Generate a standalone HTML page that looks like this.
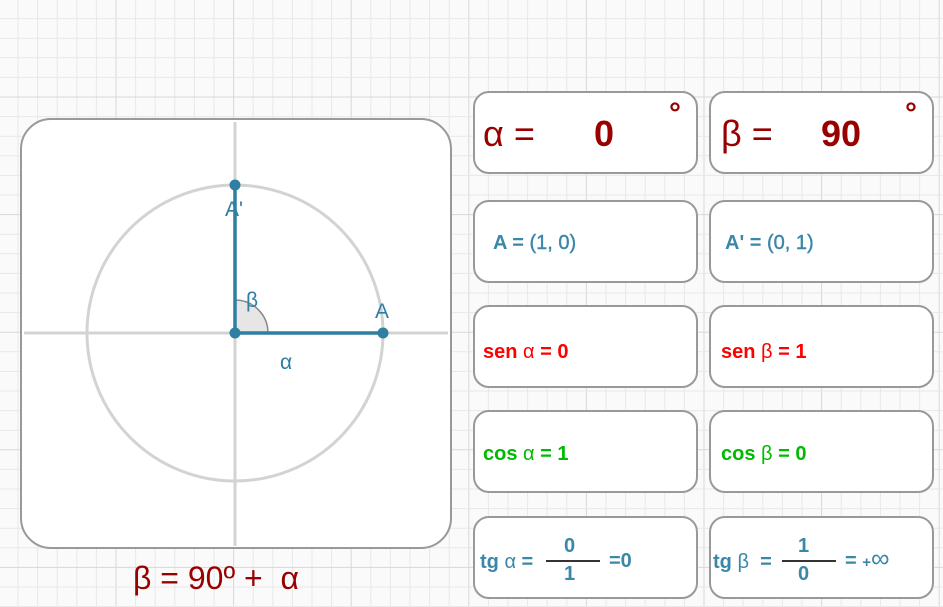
<!DOCTYPE html>
<html><head><meta charset="utf-8">
<style>
body{margin:0;width:943px;height:607px;overflow:hidden;background:#fafafa;font-family:"Liberation Sans",sans-serif;}
#bg{position:absolute;left:0;top:0;}
.box{position:absolute;width:225px;height:83px;border:2px solid #999;border-radius:16px;background:#fff;box-sizing:border-box;}
.t{position:absolute;white-space:nowrap;font-weight:bold;}
</style></head><body>
<svg id="bg" width="943" height="607"></svg>
<svg id="g" style="position:absolute;left:0;top:0" width="943" height="607"></svg>

<div class="box" style="left:473px;top:91px">
 <span class="t" style="left:8px;top:20px;font-size:36px;font-weight:normal;color:#990000">α =</span>
 <span class="t" style="left:119px;top:20px;font-size:36px;color:#990000">0</span>
 <span class="t" style="left:194px;top:4px;font-size:30px;color:#990000">°</span></div>
<div class="box" style="left:709px;top:91px">
 <span class="t" style="left:10px;top:20px;font-size:36px;font-weight:normal;color:#990000">β =</span>
 <span class="t" style="left:110px;top:20px;font-size:36px;color:#990000">90</span>
 <span class="t" style="left:194px;top:4px;font-size:30px;color:#990000">°</span></div>
<div class="box" style="left:473px;top:200px">
 <span class="t" style="left:18px;top:30px;font-size:20px;color:#3a87a8">A = <span style="font-weight:normal;-webkit-text-stroke:0.4px #3a87a8">(1, 0)</span></span></div>
<div class="box" style="left:709px;top:200px">
 <span class="t" style="left:14px;top:30px;font-size:20px;color:#3a87a8">A' = <span style="font-weight:normal;-webkit-text-stroke:0.4px #3a87a8">(0, 1)</span></span></div>
<div class="box" style="left:473px;top:305px">
 <span class="t" style="left:8px;top:34px;font-size:20px;color:#ff0000">sen <span style="font-weight:normal">α</span> = 0</span></div>
<div class="box" style="left:709px;top:305px">
 <span class="t" style="left:10px;top:34px;font-size:20px;color:#ff0000">sen <span style="font-weight:normal">β</span> = 1</span></div>
<div class="box" style="left:473px;top:410px">
 <span class="t" style="left:8px;top:31px;font-size:20px;color:#00bb00">cos <span style="font-weight:normal">α</span> = 1</span></div>
<div class="box" style="left:709px;top:410px">
 <span class="t" style="left:10px;top:31px;font-size:20px;color:#00bb00">cos <span style="font-weight:normal">β</span> = 0</span></div>
<div class="box" style="left:473px;top:516px">
 <span class="t" style="left:5px;top:33px;font-size:20px;color:#3a87a8">tg <span style="font-weight:normal">α</span> =</span>
 <span class="t" style="left:89px;top:17px;font-size:20px;color:#3a87a8">0</span>
 <div style="position:absolute;left:71px;top:42px;width:54px;height:1.5px;background:#333"></div>
 <span class="t" style="left:89px;top:45px;font-size:20px;color:#3a87a8">1</span>
 <span class="t" style="left:134px;top:32px;font-size:20px;color:#3a87a8">=0</span></div>
<div class="box" style="left:709px;top:516px">
 <span class="t" style="left:2px;top:33px;font-size:20px;color:#3a87a8">tg <span style="font-weight:normal">β</span> &nbsp;=</span>
 <span class="t" style="left:87px;top:17px;font-size:20px;color:#3a87a8">1</span>
 <div style="position:absolute;left:71px;top:42px;width:54px;height:1.5px;background:#333"></div>
 <span class="t" style="left:87px;top:45px;font-size:20px;color:#3a87a8">0</span>
 <span class="t" style="left:134px;top:30px;font-size:20px;color:#3a87a8">= <span style="font-size:15px">+</span><span style="font-weight:normal;font-size:26px;line-height:20px">∞</span></span></div>
<div class="t" style="left:133px;top:560px;font-size:32px;font-weight:normal;color:#990000">β = 90º + &nbsp;α</div>

<script>
const alphaDeg = [0];
const NS='http://www.w3.org/2000/svg';
const bg=document.getElementById('bg');
function mk(p,tag,at){const e=document.createElementNS(NS,tag);for(const k in at)e.setAttribute(k,at[k]);p.appendChild(e);return e;}
for(let i=0;i<50;i++){const x=-1.6+i*19.6;const mj=i%6===0;
 const l=mk(bg,'line',{x1:x,y1:0,x2:x,y2:607,stroke:mj?'#d8d8d8':'#e8e8e8','stroke-width':1});
 
 }
for(let i=0;i<32;i++){const y=18.6+i*19.6;const mj=(i-4)%6===0;
 const l=mk(bg,'line',{x1:0,y1:y,x2:943,y2:y,stroke:mj?'#d8d8d8':'#e8e8e8','stroke-width':1});
 
 }
const g=document.getElementById('g');
const cx=235,cy=333,R=148;
const panel=mk(g,'rect',{x:21,y:119,width:430,height:429,rx:30,fill:'#fff',stroke:'#999','stroke-width':2});


mk(g,'line',{x1:235,y1:122,x2:235,y2:546,stroke:'#d3d3d3','stroke-width':3});
mk(g,'line',{x1:24,y1:333,x2:448,y2:333,stroke:'#d3d3d3','stroke-width':3});
const c=mk(g,'circle',{cx:cx,cy:cy,r:R,fill:'none',stroke:'#d3d3d3','stroke-width':3});


const a=alphaDeg[0]*Math.PI/180, b=a+Math.PI/2;
const ax=cx+R*Math.cos(a), ay=cy-R*Math.sin(a), bx=cx+R*Math.cos(b), by=cy-R*Math.sin(b);
const r=33;
mk(g,'path',{d:`M${cx},${cy} L${cx+r*Math.cos(a)},${cy-r*Math.sin(a)} A${r},${r} 0 0 0 ${cx+r*Math.cos(b)},${cy-r*Math.sin(b)} Z`,fill:'#e6e6e6',stroke:'none'});
mk(g,'path',{d:`M${cx+r*Math.cos(a)},${cy-r*Math.sin(a)} A${r},${r} 0 0 0 ${cx+r*Math.cos(b)},${cy-r*Math.sin(b)}`,fill:'none',stroke:'#888','stroke-width':1.5});
mk(g,'line',{x1:cx,y1:cy,x2:ax,y2:ay,stroke:'#2e7fa1','stroke-width':3.5});
mk(g,'line',{x1:cx,y1:cy,x2:bx,y2:by,stroke:'#2e7fa1','stroke-width':3.5});
for(const [x,y,n] of [[cx,cy,'origin-point'],[ax,ay,'point-a'],[bx,by,'point-a-prime']]){
 const p=mk(g,'circle',{cx:x,cy:y,r:5.5,fill:'#2e7fa1'});
 
 }
const lab=(x,y,t,n)=>{const e=mk(g,'text',{x:x,y:y,fill:'#2e7fa1','font-size':21,'font-family':'Liberation Sans, sans-serif'});e.textContent=t;
 
 };
lab(375,318,'A','label-a');lab(225,216,"A'",'label-a-prime');lab(246,307,'β','label-beta');lab(280,369,'α','label-alpha');
</script>
</body></html>
